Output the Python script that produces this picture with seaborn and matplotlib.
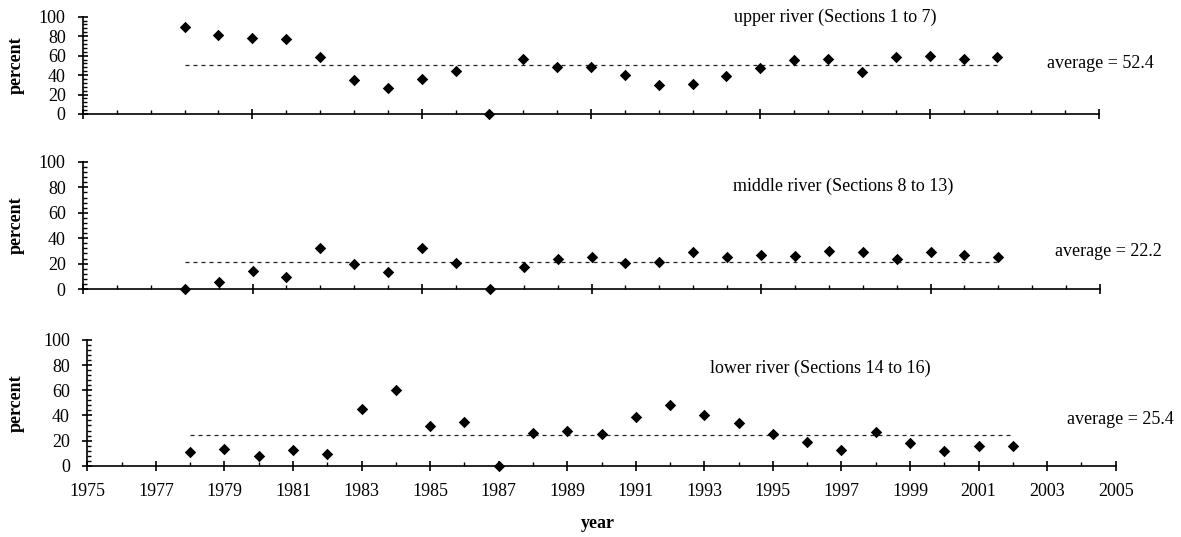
import numpy as np
import pandas as pd
import seaborn as sns
import matplotlib
matplotlib.use('Agg')
from matplotlib import pyplot as plt
from matplotlib.ticker import MultipleLocator

sns.set_style('white')
plt.rcParams['font.family'] = ['Liberation Serif', 'DejaVu Serif']
plt.rcParams['text.color'] = 'black'

# data
years = [1978, 1979, 1980, 1981, 1982, 1983, 1984, 1985, 1986, 1987, 1988, 1989, 1990,
         1991, 1992, 1993, 1994, 1995, 1996, 1997, 1998, 1999, 2000, 2001, 2002]
upper = [89, 81, 78, 77.5, 59, 35, 27, 36, 44, 0, 57, 48, 48.5,
         40.5, 30, 31, 39.5, 47.5, 55, 56.5, 43, 59, 59.5, 57, 59]
middle = [0, 5.5, 14.5, 9.5, 32, 19.5, 13, 32, 20.5, 0, 17, 24, 25,
          20.5, 21, 29, 25.5, 26.5, 26, 30, 29.5, 23.5, 29, 26.5, 25]
lower = [11, 13.5, 7.5, 12.5, 9, 45.5, 60, 31.5, 34.5, 0, 26, 28, 25.5,
         38.5, 48.5, 40, 34, 25, 18.5, 12.5, 27, 18, 11.5, 15.5, 16]

titles = ['upper river (Sections 1 to 7)', 'middle river (Sections 8 to 13)',
          'lower river (Sections 14 to 16)']
avg_labels = ['average = 52.4', 'average = 22.2', 'average = 25.4']
avg_lines = [50.3, 21.3, 24.8]   # where the dashed line is drawn
line_span = [1978, 2002]
year_ticks = [1975, 1977, 1979, 1981, 1983, 1985, 1987, 1989, 1991, 1993, 1995,
              1997, 1999, 2001, 2003, 2005]
top_year_ticks = [1975, 1980, 1985, 1990, 1995, 2000, 2005]
pct_ticks = [0, 20, 40, 60, 80, 100]

W, H = 1181, 537
fig = plt.figure(figsize=(W / 100, H / 100), dpi=100)


def box(l, r, t, b):
    return [l / W, 1 - b / H, (r - l) / W, (b - t) / H]


# panel boxes in pixels: left, right, top, bottom
boxes = [(83, 1099, 16.7, 114), (83, 1100, 162, 289), (87.3, 1115.7, 340, 465.7)]
title_pos = [(835, 17), (843, 186), (820, 368)]
avg_pos = [(1047, 63), (1055, 252), (1067, 419)]
ylab_pos = [(16, 65), (16, 225), (16, 403)]

series = [upper, middle, lower]

for i in range(3):
    ax = fig.add_axes(box(*boxes[i]))
    df = pd.DataFrame({'year': years, 'percent': series[i]})
    sns.scatterplot(data=df, x='year', y='percent', marker='D', color='black',
                    s=34, linewidth=0, ax=ax, clip_on=False, zorder=5)
    ax.hlines(avg_lines[i], line_span[0], line_span[1], colors='#222222',
              linestyles=(0, (3.2, 3.2)), linewidth=0.9)
    ax.set_xlim(1975, 2005)
    ax.set_ylim(0, 100)
    ax.set_xlabel('')
    ax.set_ylabel('')
    for s in ['top', 'right']:
        ax.spines[s].set_visible(False)
    for s in ['left', 'bottom']:
        ax.spines[s].set_color('black')
        ax.spines[s].set_linewidth(1.2)

    ax.set_yticks(pct_ticks)
    ax.yaxis.set_minor_locator(MultipleLocator(4))
    if i < 2:
        ax.set_xticks(top_year_ticks)
        ax.tick_params(axis='x', which='major', labelbottom=False)
    else:
        ax.set_xticks(year_ticks)
        ax.set_xticklabels([str(y) for y in year_ticks])
    ax.xaxis.set_minor_locator(MultipleLocator(1))

    ax.tick_params(which='both', bottom=True, left=True)
    ax.tick_params(which='major', direction='inout', length=7, width=1.2,
                   color='black', labelsize=13, labelcolor='black')
    ax.tick_params(which='minor', direction='in', length=3, width=1.0, color='black')
    ax.tick_params(axis='y', which='major', pad=9)
    ax.tick_params(axis='x', which='major', pad=9)
    ax.set_facecolor('white')

    fig.text(title_pos[i][0] / W, 1 - title_pos[i][1] / H, titles[i],
             ha='center', va='center', fontsize=13, color='black')
    fig.text(avg_pos[i][0] / W, 1 - avg_pos[i][1] / H, avg_labels[i],
             ha='left', va='center', fontsize=13, color='black')
    fig.text(ylab_pos[i][0] / W, 1 - ylab_pos[i][1] / H, 'percent',
             ha='center', va='center', rotation=90, fontsize=13,
             fontweight='bold', color='black')

fig.text(598 / W, 1 - 523 / H, 'year', ha='center', va='center',
         fontsize=13, fontweight='bold', color='black')

fig.savefig('out.png', dpi=100, facecolor='white')
